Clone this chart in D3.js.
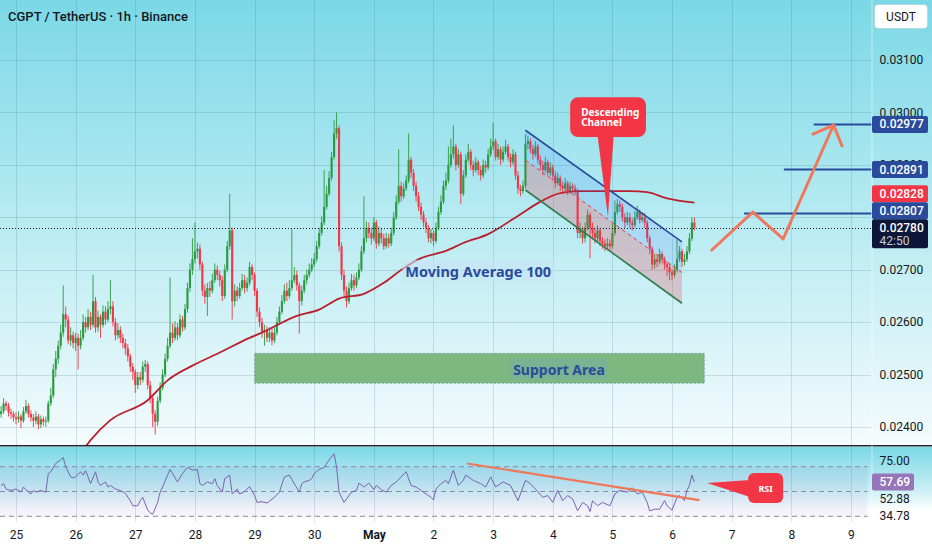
<!DOCTYPE html>
<html lang="en">
<head>
<meta charset="UTF-8">
<title>CGPT / TetherUS · 1h · Binance</title>
<script src="https://cdn.jsdelivr.net/npm/d3@7"></script>
<style>
  html, body { margin: 0; padding: 0; background: #fff; }
  svg { display: block; font-family: Roboto, 'Liberation Sans', sans-serif; }
</style>
</head>
<body>
<div id="chart"></div>
<script>
// prices in 0.00001 USDT, one candle per hour starting 24 Apr 18:00
const firstOpen = 2425;
const closes = [
  2430, 2445, 2440, 2428, 2425, 2418,
  2415, 2420, 2412, 2430, 2440, 2425, 2418, 2412, 2420, 2405, 2415, 2410, 2412, 2445, 2460, 2510, 2530, 2555, 2580, 2615, 2605, 2565, 2575, 2560,
  2570, 2555, 2570, 2600, 2590, 2610, 2595, 2640, 2590, 2610, 2595, 2620, 2605, 2625, 2630, 2600, 2575, 2585, 2570, 2560, 2550, 2535, 2515, 2505,
  2480, 2495, 2490, 2515, 2520, 2480, 2455, 2425, 2410, 2450, 2475, 2500, 2530, 2555, 2580, 2570, 2590, 2575, 2605, 2590, 2625, 2665, 2700, 2720,
  2735, 2740, 2710, 2660, 2648, 2665, 2660, 2680, 2700, 2690, 2680, 2650, 2700, 2745, 2775, 2640, 2660, 2650, 2665, 2680, 2665, 2675, 2705, 2690,
  2660, 2620, 2600, 2582, 2585, 2570, 2580, 2565, 2580, 2600, 2620, 2640, 2660, 2650, 2665, 2680, 2690, 2670, 2640, 2660, 2680, 2690, 2700, 2710,
  2720, 2745, 2770, 2790, 2820, 2845, 2875, 2915, 2960, 2970, 2745, 2690, 2660, 2640, 2665, 2680, 2670, 2685, 2700, 2735, 2760, 2780, 2770, 2760,
  2790, 2750, 2770, 2760, 2745, 2760, 2750, 2770, 2800, 2830, 2860, 2840, 2855, 2870, 2910, 2885, 2860, 2840, 2820, 2805, 2790, 2780, 2760, 2770,
  2755, 2780, 2810, 2830, 2860, 2870, 2900, 2920, 2935, 2900, 2920, 2845, 2880, 2910, 2925, 2900, 2890, 2905, 2890, 2880, 2900, 2895, 2920, 2935,
  2945, 2915, 2930, 2910, 2925, 2935, 2915, 2905, 2920, 2880, 2855, 2850, 2860, 2940, 2945, 2930, 2920, 2935, 2910, 2900, 2890, 2905, 2885, 2895,
  2880, 2865, 2875, 2860, 2855, 2865, 2850, 2860, 2855, 2850, 2770, 2775, 2760, 2780, 2805, 2780, 2770, 2760, 2775, 2755, 2750, 2745, 2750, 2745,
  2770, 2810, 2825, 2820, 2800, 2790, 2800, 2790, 2785, 2800, 2810, 2795, 2800, 2790, 2760, 2740, 2710, 2720, 2715, 2730, 2720, 2710, 2705, 2695,
  2690, 2700, 2720, 2735, 2715, 2720, 2735, 2760, 2790, 2780
];
const highs = [
  2440, 2455, 2450, 2446, 2435, 2430,
  2428, 2430, 2425, 2438, 2452, 2445, 2432, 2425, 2430, 2425, 2422, 2420, 2420, 2450, 2475, 2520, 2545, 2565, 2595, 2670, 2630, 2612, 2590, 2582,
  2580, 2578, 2585, 2615, 2610, 2625, 2620, 2690, 2648, 2622, 2615, 2632, 2630, 2640, 2680, 2640, 2608, 2598, 2592, 2578, 2568, 2558, 2540, 2522,
  2510, 2505, 2505, 2525, 2528, 2525, 2488, 2460, 2432, 2458, 2485, 2510, 2540, 2570, 2685, 2598, 2602, 2598, 2615, 2612, 2635, 2675, 2712, 2760,
  2790, 2752, 2748, 2715, 2672, 2675, 2678, 2692, 2712, 2708, 2698, 2688, 2710, 2755, 2845, 2780, 2672, 2668, 2675, 2692, 2690, 2685, 2715, 2710,
  2695, 2665, 2628, 2608, 2595, 2592, 2590, 2588, 2590, 2610, 2630, 2652, 2672, 2675, 2680, 2777, 2705, 2698, 2676, 2670, 2690, 2700, 2712, 2722,
  2732, 2755, 2780, 2802, 2890, 2860, 2888, 2925, 2985, 3000, 2975, 2752, 2700, 2668, 2675, 2692, 2690, 2695, 2712, 2745, 2840, 2792, 2790, 2780,
  2800, 2795, 2782, 2778, 2768, 2770, 2768, 2780, 2810, 2842, 2930, 2868, 2865, 2880, 2960, 2915, 2892, 2868, 2848, 2828, 2812, 2798, 2785, 2778,
  2775, 2790, 2820, 2842, 2870, 2885, 2935, 2950, 2975, 2940, 2930, 2925, 2890, 2920, 2940, 2930, 2908, 2915, 2910, 2898, 2910, 2908, 2930, 2950,
  2980, 2950, 2940, 2935, 2935, 2948, 2940, 2922, 2930, 2925, 2888, 2862, 2870, 2958, 2955, 2950, 2938, 2945, 2940, 2918, 2908, 2915, 2910, 2905,
  2900, 2888, 2885, 2880, 2868, 2875, 2870, 2868, 2865, 2862, 2855, 2790, 2782, 2790, 2815, 2810, 2790, 2778, 2785, 2780, 2762, 2758, 2760, 2758,
  2788, 2832, 2835, 2832, 2826, 2808, 2810, 2808, 2798, 2812, 2822, 2815, 2810, 2808, 2795, 2765, 2745, 2730, 2728, 2740, 2735, 2725, 2715, 2712,
  2700, 2710, 2758, 2745, 2740, 2730, 2745, 2770, 2800, 2800
];
const lows = [
  2418, 2425, 2432, 2420, 2415, 2410,
  2405, 2408, 2398, 2408, 2425, 2418, 2410, 2400, 2405, 2396, 2398, 2402, 2400, 2408, 2440, 2455, 2495, 2520, 2548, 2572, 2590, 2558, 2555, 2550,
  2545, 2510, 2548, 2565, 2580, 2585, 2585, 2590, 2580, 2582, 2570, 2590, 2595, 2600, 2615, 2592, 2565, 2568, 2560, 2550, 2538, 2525, 2505, 2490,
  2465, 2472, 2480, 2485, 2505, 2472, 2445, 2400, 2385, 2402, 2445, 2470, 2495, 2525, 2550, 2560, 2565, 2566, 2570, 2582, 2585, 2618, 2658, 2690,
  2712, 2722, 2700, 2650, 2635, 2612, 2648, 2655, 2675, 2680, 2668, 2640, 2645, 2695, 2738, 2605, 2630, 2640, 2645, 2660, 2655, 2658, 2670, 2680,
  2650, 2610, 2590, 2570, 2555, 2562, 2562, 2556, 2560, 2575, 2595, 2615, 2635, 2640, 2645, 2660, 2675, 2660, 2578, 2632, 2655, 2672, 2685, 2695,
  2705, 2715, 2740, 2765, 2785, 2815, 2840, 2870, 2910, 2950, 2735, 2680, 2650, 2628, 2635, 2660, 2660, 2665, 2680, 2695, 2730, 2752, 2760, 2748,
  2755, 2740, 2745, 2750, 2738, 2740, 2742, 2745, 2765, 2795, 2825, 2830, 2835, 2850, 2865, 2875, 2850, 2830, 2812, 2795, 2782, 2770, 2752, 2750,
  2745, 2750, 2775, 2805, 2825, 2852, 2865, 2895, 2912, 2890, 2895, 2825, 2840, 2875, 2905, 2890, 2878, 2885, 2880, 2870, 2875, 2885, 2890, 2915,
  2928, 2908, 2910, 2900, 2905, 2920, 2908, 2895, 2900, 2872, 2845, 2840, 2845, 2855, 2930, 2922, 2910, 2915, 2902, 2890, 2880, 2885, 2878, 2878,
  2870, 2855, 2860, 2850, 2845, 2848, 2842, 2845, 2848, 2842, 2760, 2760, 2750, 2752, 2775, 2722, 2760, 2750, 2752, 2745, 2740, 2735, 2738, 2735,
  2740, 2765, 2805, 2810, 2792, 2780, 2785, 2780, 2775, 2780, 2795, 2788, 2790, 2780, 2752, 2730, 2700, 2702, 2705, 2710, 2712, 2700, 2688, 2680,
  2680, 2685, 2695, 2715, 2705, 2708, 2715, 2730, 2755, 2775
];
// moving average 100: [hour, price]
const maPoints = [
  [30, 2345], [34, 2363], [36, 2375], [44, 2413], [59, 2451], [67, 2489], [77, 2517], [88, 2542],
  [100, 2570], [105, 2580], [119, 2612], [128, 2624], [136, 2645], [146, 2654], [154, 2675], [162, 2703],
  [169, 2722], [179, 2736], [186, 2751], [196, 2768], [209, 2806], [216, 2827], [225, 2846], [233, 2850],
  [241, 2850], [253, 2850], [260, 2848], [268, 2836], [279, 2828]
];
// RSI 14: [hour, value]
const rsiPoints = [
  [0, 54.9], [1, 56.3], [2, 52], [4, 50.8], [6, 52], [8, 49.5], [9, 53.6], [10, 51.4], [12, 48], [13, 50.8],
  [14, 49.5], [16, 50.8], [18, 49.5], [19, 64.5], [20, 65.9], [22, 72.7], [24, 75.5], [25, 77.4], [26, 70],
  [28, 61.8], [29, 61], [30, 61.8], [32, 65.9], [33, 63.2], [34, 66.7], [35, 61.8], [36, 56.3], [38, 65.9],
  [39, 57.7], [40, 54.9], [42, 57.7], [43, 53.6], [44, 54.9], [46, 52], [48, 50.8], [50, 48.6], [52, 42.6],
  [53, 38.5], [55, 38.5], [56, 42.6], [57, 45.3], [59, 34.9], [60, 33], [61, 31.6], [63, 41.2], [64, 49.5],
  [65, 53.6], [67, 63.2], [68, 67.8], [69, 64.5], [71, 57.7], [73, 64.5], [75, 69.5], [77, 67.3], [79, 67.8],
  [80, 56.3], [81, 54.9], [83, 57.7], [85, 56.3], [86, 60.4], [87, 54.9], [89, 49.5], [90, 60.4], [92, 63.2],
  [93, 48], [95, 52], [96, 48], [98, 50], [100, 54], [102, 46.7], [103, 41.2], [105, 41.8], [107, 40.7],
  [110, 45.3], [112, 49.5], [114, 61.8], [116, 63.2], [118, 56.3], [120, 49.5], [121, 56.3], [122, 57.7],
  [124, 59], [125, 60.4], [126, 64.5], [128, 67.8], [130, 69.5], [132, 75.5], [134, 80.4], [135, 70],
  [136, 49.5], [138, 41.2], [139, 44], [141, 49.5], [143, 50.8], [144, 56.8], [146, 53.6], [148, 56.8],
  [150, 51.4], [151, 54.9], [153, 51.4], [155, 49.5], [157, 54.9], [159, 57.7], [161, 61.8], [163, 65.9],
  [165, 54.9], [167, 53.6], [169, 50.8], [171, 48], [173, 45.3], [174, 43.2], [175, 52], [177, 56.3],
  [179, 59], [180, 56.3], [182, 67.3], [184, 54.9], [186, 59], [187, 63.2], [190, 59], [193, 56.3],
  [195, 53.6], [197, 61.8], [199, 53.6], [202, 57.7], [205, 54.9], [208, 42.6], [211, 59], [213, 56.3],
  [215, 52], [218, 45.3], [220, 46.7], [222, 41.2], [224, 50.8], [226, 42.6], [228, 46.7], [230, 44],
  [232, 34.4], [234, 41.2], [236, 38.5], [237, 33.8], [238, 42.6], [240, 38.5], [242, 41.2], [245, 38.5],
  [247, 48], [249, 50.8], [252, 49.5], [254, 53], [256, 48], [258, 49.5], [260, 41.2], [261, 34.4],
  [263, 35.7], [265, 35.7], [267, 42.6], [268, 38.5], [270, 34.9], [272, 45.3], [273, 46.7], [275, 42.6],
  [276, 50.8], [277, 54.9], [278, 63.2], [279, 57.69]
];
const rsiSignal = 52.88;
const rsiLower = 34.78;
const priceTicks = [0.024, 0.025, 0.026, 0.027, 0.028, 0.029, 0.030, 0.031];
const rsiTicks = [75];
const rsiBands = [70, 50, 30];
const dayLabels = ['25', '26', '27', '28', '29', '30', 'May', '2', '3', '4', '5', '6', '7', '8', '9'];
// drawings, in hours and prices
const channel = { h0: 211, h1: 274, upper: [0.02966, 0.02753], lower: [0.02852, 0.02636] };
const support = { h0: 102, h1: 283, top: 0.025405, bottom: 0.024835 };
const targets = [ { price: 0.02977, from: 327 }, { price: 0.02891, from: 315 }, { price: 0.02807, from: 299 } ];
const forecast = [ [286, 0.027376], [302.5, 0.02810], [314.7, 0.027586], [335, 0.02976] ];
const arrowWings = [ [326.7, 0.029588], [338.4, 0.02936] ];
const rsiTrend = [ [187.5, 72.6], [281, 43.1] ];
const countdown = '42:50';

const W = 932, H = 550;
const plotR = 871.5;
const mainTop = 0, mainBot = 445;
const rsiTop = 447, rsiBot = 522;
const t0 = Date.UTC(2024, 3, 24, 18);
const hour = 3600e3;
const at = (h) => new Date(t0 + h * hour);

const x = d3.scaleUtc().domain([at(0), at(350)]).range([1.09, 870.85]);
const y = d3.scaleLinear().domain([0.024, 0.031]).range([427, 60]);
const yr = d3.scaleLinear().domain([30, 70]).range([516.3, 466.7]);
const xh = (h) => x(at(h));

const GREEN = '#2a9a40', RED = '#f23645', BLUE = '#2a4b9b', ORANGE = '#f0785a', INK = '#131722';

const svg = d3.select('#chart').append('svg')
  .attr('width', W).attr('height', H).attr('viewBox', `0 0 ${W} ${H}`);
const defs = svg.append('defs');

function grad(id, stops) {
  const g = defs.append('linearGradient').attr('id', id)
    .attr('x1', 0).attr('x2', 0).attr('y1', 0).attr('y2', 1);
  stops.forEach(([o, c]) => g.append('stop').attr('offset', o).attr('stop-color', c));
}
grad('bgMain', [[0, '#7bd8e6'], [0.5, '#b8ebf2'], [1, '#f4fbfc']]);
grad('bgRsi', [[0, '#7bd8e6'], [0.55, '#c6eef4'], [0.85, '#ffffff'], [1, '#ffffff']]);

defs.append('clipPath').attr('id', 'clipMain')
  .append('rect').attr('x', 0).attr('y', mainTop).attr('width', plotR).attr('height', mainBot - mainTop);
defs.append('clipPath').attr('id', 'clipRsi')
  .append('rect').attr('x', 0).attr('y', rsiTop).attr('width', plotR).attr('height', rsiBot - rsiTop);

svg.append('rect').attr('width', W).attr('height', H).attr('fill', '#fff');
svg.append('rect').attr('x', 0).attr('y', mainTop).attr('width', W).attr('height', mainBot - mainTop).attr('fill', 'url(#bgMain)');
svg.append('rect').attr('x', 0).attr('y', rsiTop).attr('width', W).attr('height', rsiBot - rsiTop).attr('fill', 'url(#bgRsi)');

// grid
const days = d3.utcDay.range(new Date(Date.UTC(2024, 3, 25)), new Date(Date.UTC(2024, 4, 10)));
const grid = svg.append('g').attr('stroke', 'rgba(50,90,110,0.16)').attr('stroke-width', 1);
grid.selectAll('.v').data(days).join('line')
  .attr('x1', (d) => Math.round(x(d)) + 0.5).attr('x2', (d) => Math.round(x(d)) + 0.5)
  .attr('y1', mainTop).attr('y2', rsiBot);
grid.selectAll('.h').data(priceTicks).join('line')
  .attr('x1', 0).attr('x2', plotR)
  .attr('y1', (d) => Math.round(y(d)) + 0.5).attr('y2', (d) => Math.round(y(d)) + 0.5);

// rsi band
svg.append('rect').attr('x', 0).attr('width', plotR - 4)
  .attr('y', yr(70)).attr('height', yr(30) - yr(70)).attr('fill', 'rgba(126,87,194,0.08)');
svg.append('g').selectAll('line').data(rsiBands).join('line')
  .attr('x1', 0).attr('x2', plotR - 4)
  .attr('y1', (d) => yr(d)).attr('y2', (d) => yr(d))
  .attr('stroke', '#8e87a6').attr('stroke-dasharray', '5,4').attr('stroke-width', 1);

// support area
const sx0 = xh(support.h0), sx1 = xh(support.h1);
svg.append('rect').attr('x', sx0).attr('y', y(support.top))
  .attr('width', sx1 - sx0).attr('height', y(support.bottom) - y(support.top))
  .attr('fill', '#7cb880').attr('stroke', 'rgba(60,100,150,0.55)').attr('stroke-width', 0.8)
  .attr('stroke-dasharray', '2,2');

// candles
const candles = closes.map((c, i) => ({
  t: at(i),
  o: (i ? closes[i - 1] : firstOpen) / 1e5,
  h: highs[i] / 1e5,
  l: lows[i] / 1e5,
  c: c / 1e5,
}));
const cg = svg.append('g').attr('clip-path', 'url(#clipMain)');
const cs = cg.selectAll('g').data(candles).join('g')
  .attr('fill', (d) => (d.c >= d.o ? GREEN : RED))
  .attr('stroke', (d) => (d.c >= d.o ? GREEN : RED));
cs.append('line')
  .attr('x1', (d) => x(d.t)).attr('x2', (d) => x(d.t))
  .attr('y1', (d) => y(d.h)).attr('y2', (d) => y(d.l))
  .attr('stroke-width', 0.9);
cs.append('rect')
  .attr('x', (d) => x(d.t) - 1.05).attr('width', 2.1)
  .attr('y', (d) => y(Math.max(d.o, d.c)))
  .attr('height', (d) => Math.max(1, Math.abs(y(d.o) - y(d.c))))
  .attr('stroke', 'none');

// moving average 100
cg.append('path').datum(maPoints)
  .attr('fill', 'none').attr('stroke', '#b8202f').attr('stroke-width', 1.8)
  .attr('d', d3.line().curve(d3.curveMonotoneX).x((d) => xh(d[0])).y((d) => y(d[1] / 1e5)));

// descending channel
const chX0 = xh(channel.h0), chX1 = xh(channel.h1);
const mid = [(channel.upper[0] + channel.lower[0]) / 2, (channel.upper[1] + channel.lower[1]) / 2];
const poly = (a, b) => `M${chX0},${y(a[0])}L${chX1},${y(a[1])}L${chX1},${y(b[1])}L${chX0},${y(b[0])}Z`;
svg.append('path').attr('d', poly(channel.upper, mid)).attr('fill', 'rgba(41,98,255,0.13)');
svg.append('path').attr('d', poly(mid, channel.lower)).attr('fill', 'rgba(242,54,69,0.24)');
svg.append('line').attr('x1', chX0).attr('x2', chX1).attr('y1', y(channel.upper[0])).attr('y2', y(channel.upper[1]))
  .attr('stroke', BLUE).attr('stroke-width', 1.6);
svg.append('line').attr('x1', chX0).attr('x2', chX1).attr('y1', y(channel.lower[0])).attr('y2', y(channel.lower[1]))
  .attr('stroke', '#2f7d4c').attr('stroke-width', 1.6);
svg.append('line').attr('x1', chX0).attr('x2', chX1).attr('y1', y(mid[0])).attr('y2', y(mid[1]))
  .attr('stroke', RED).attr('stroke-width', 1).attr('stroke-dasharray', '4,3');

// last price dotted line
const last = candles[candles.length - 1];
svg.append('line').attr('x1', 0).attr('x2', plotR)
  .attr('y1', Math.round(y(last.c)) + 0.5).attr('y2', Math.round(y(last.c)) + 0.5)
  .attr('stroke', INK).attr('stroke-width', 1).attr('stroke-dasharray', '1,2');

// text labels with boxes
function boxLabel(h, price, text, bg, size) {
  const g = svg.append('g');
  const t = g.append('text').attr('x', xh(h)).attr('y', y(price))
    .attr('text-anchor', 'middle').attr('dominant-baseline', 'central')
    .attr('font-family', "'Noto Sans', 'DejaVu Sans', sans-serif")
    .attr('font-weight', 700).attr('font-size', size).attr('fill', BLUE).text(text);
  const b = t.node().getBBox();
  g.insert('rect', 'text').attr('x', b.x - 3).attr('y', b.y - 1)
    .attr('width', b.width + 6).attr('height', b.height + 2).attr('fill', bg);
}
boxLabel(192, 0.026975, 'Moving Average 100', 'rgba(200,228,246,0.6)', 14.5);
boxLabel(224.5, 0.025106, 'Support Area', 'rgba(110,160,235,0.18)', 14);

// target lines
svg.append('g').selectAll('line').data(targets).join('line')
  .attr('x1', (d) => xh(d.from)).attr('x2', plotR)
  .attr('y1', (d) => y(d.price)).attr('y2', (d) => y(d.price))
  .attr('stroke', BLUE).attr('stroke-width', 2);

// forecast path with arrow head
const fline = d3.line().x((d) => xh(d[0])).y((d) => y(d[1]));
svg.append('path').attr('d', fline(forecast))
  .attr('fill', 'none').attr('stroke', ORANGE).attr('stroke-width', 3)
  .attr('stroke-linejoin', 'round').attr('stroke-linecap', 'round');
const tip = forecast[forecast.length - 1];
svg.append('path').attr('d', fline([arrowWings[0], tip, arrowWings[1]]))
  .attr('fill', 'none').attr('stroke', ORANGE).attr('stroke-width', 3)
  .attr('stroke-linejoin', 'round').attr('stroke-linecap', 'round');

// callout: descending channel
{
  const bx0 = xh(229), bx1 = xh(259.5), by0 = y(0.03029), by1 = y(0.02953);
  svg.append('path')
    .attr('d', `M${xh(240)},${by1 - 2}L${xh(244.2)},${y(0.02801)}L${xh(246.5)},${by1 - 2}Z`)
    .attr('fill', RED);
  svg.append('rect').attr('x', bx0).attr('y', by0).attr('width', bx1 - bx0).attr('height', by1 - by0)
    .attr('rx', 8).attr('fill', RED);
  const t = svg.append('text').attr('x', bx0 + 11).attr('y', by0 + 18.5)
    .attr('font-family', "'Noto Sans', 'DejaVu Sans', sans-serif")
    .attr('font-size', 10).attr('font-weight', 700).attr('fill', '#fff');
  t.append('tspan').text('Descending');
  t.append('tspan').attr('x', bx0 + 11).attr('dy', 10).text('Channel');
}

// rsi pane
const rg = svg.append('g').attr('clip-path', 'url(#clipRsi)');
rg.append('path').datum(rsiPoints)
  .attr('fill', 'none').attr('stroke', '#7a63ad').attr('stroke-width', 1)
  .attr('d', d3.line().x((d) => xh(d[0])).y((d) => yr(d[1])));
svg.append('line')
  .attr('x1', xh(rsiTrend[0][0])).attr('y1', yr(rsiTrend[0][1]))
  .attr('x2', xh(rsiTrend[1][0])).attr('y2', yr(rsiTrend[1][1]))
  .attr('stroke', ORANGE).attr('stroke-width', 2.2);

// callout: RSI
{
  const bx0 = xh(300.6), bx1 = xh(314.7), by0 = yr(64.9), by1 = yr(40.7);
  svg.append('path')
    .attr('d', `M${bx0 + 2},${yr(59.3)}L${xh(284.1)},${yr(56.9)}L${bx0 + 2},${yr(45.6)}Z`)
    .attr('fill', RED);
  svg.append('rect').attr('x', bx0).attr('y', by0).attr('width', bx1 - bx0).attr('height', by1 - by0)
    .attr('rx', 6).attr('fill', RED);
  svg.append('text').attr('x', (bx0 + bx1) / 2).attr('y', (by0 + by1) / 2 + 3.5)
    .attr('text-anchor', 'middle')
    .attr('font-family', "'Noto Sans', 'DejaVu Sans', sans-serif")
    .attr('font-size', 9).attr('font-weight', 700).attr('fill', '#fff').text('RSI');
}

// pane separator
svg.append('line').attr('x1', 0).attr('x2', W).attr('y1', 445.75).attr('y2', 445.75)
  .attr('stroke', '#1a2233').attr('stroke-width', 1.5);
svg.append('line').attr('x1', plotR + 0.5).attr('x2', plotR + 0.5).attr('y1', 0).attr('y2', rsiBot)
  .attr('stroke', 'rgba(255,255,255,0.5)');

// price badges, stacked upward from the last price
const fmt = d3.format('.5f');
const bh = 17;
const lastTop = y(last.c) - bh / 2;
const badges = [
  { v: 0.02977, fill: BLUE },
  { v: 0.02891, fill: BLUE },
  { v: maPoints[maPoints.length - 1][1] / 1e5, fill: RED },
  { v: 0.02807, fill: BLUE },
].sort((a, b) => b.v - a.v);
let limit = lastTop;
for (let i = badges.length - 1; i >= 0; i--) {
  let top = y(badges[i].v) - bh / 2;
  if (top + bh > limit) top = limit - bh;
  badges[i].top = top;
  limit = top;
}

// price axis: a tick label that lies wholly under the badge stack is left out
const spans = badges.map((b) => [b.top, b.top + bh]).concat([[lastTop, lastTop + 29]])
  .sort((a, b) => a[0] - b[0]);
const merged = [];
spans.forEach((s) => {
  const m = merged[merged.length - 1];
  if (m && s[0] <= m[1] + 0.5) m[1] = Math.max(m[1], s[1]);
  else merged.push(s.slice());
});
const covered = (v) => merged.some((m) => y(v) - 5 >= m[0] && y(v) + 5 <= m[1]);
const yAxis = svg.append('g').attr('transform', `translate(${plotR},0)`)
  .call(d3.axisRight(y).tickValues(priceTicks.filter((v) => !covered(v))).tickFormat(fmt).tickSize(0).tickPadding(8));
yAxis.select('.domain').remove();
yAxis.selectAll('text').attr('font-size', 12).attr('fill', INK).attr('font-family', 'Roboto, sans-serif');

const rAxis = svg.append('g').attr('transform', `translate(${plotR},0)`)
  .call(d3.axisRight(yr).tickValues(rsiTicks).tickFormat(d3.format('.2f')).tickSize(0).tickPadding(8));
rAxis.select('.domain').remove();
rAxis.selectAll('text').attr('font-size', 12).attr('fill', INK).attr('font-family', 'Roboto, sans-serif');

// time axis
const xAxis = svg.append('g').attr('transform', `translate(0,${rsiBot + 6})`)
  .call(d3.axisBottom(x).tickValues(days).tickFormat((d, i) => dayLabels[i]).tickSize(0).tickPadding(2));
xAxis.select('.domain').remove();
xAxis.selectAll('text').attr('font-size', 12).attr('fill', INK).attr('font-family', 'Roboto, sans-serif')
  .attr('font-weight', (d, i) => (dayLabels[i] === 'May' ? 700 : 400));

const bg = svg.append('g').attr('font-family', 'Roboto, sans-serif').attr('font-size', 12);
badges.forEach((b) => {
  bg.append('rect').attr('x', plotR + 0.5).attr('y', b.top).attr('width', 56).attr('height', bh)
    .attr('rx', 2).attr('fill', b.fill);
  bg.append('text').attr('x', plotR + 8).attr('y', b.top + bh / 2).attr('dominant-baseline', 'central')
    .attr('fill', '#fff').attr('font-weight', 500).text(fmt(b.v));
});
bg.append('rect').attr('x', plotR + 0.5).attr('y', lastTop).attr('width', 56).attr('height', 29)
  .attr('rx', 2).attr('fill', '#0d1739');
bg.append('text').attr('x', plotR + 8).attr('y', lastTop + bh / 2).attr('dominant-baseline', 'central')
  .attr('fill', '#fff').attr('font-weight', 500).text(fmt(last.c));
bg.append('text').attr('x', plotR + 8).attr('y', lastTop + 21.5).attr('dominant-baseline', 'central')
  .attr('fill', '#c9ccd6').text(countdown);

// rsi labels, stacked downward from the current value
const rsiNow = rsiPoints[rsiPoints.length - 1][1];
const rTop = yr(rsiNow) - bh / 2;
bg.append('rect').attr('x', plotR + 0.5).attr('y', rTop).attr('width', 42).attr('height', bh)
  .attr('rx', 2).attr('fill', '#9676b9');
bg.append('text').attr('x', plotR + 8).attr('y', rTop + bh / 2).attr('dominant-baseline', 'central')
  .attr('fill', '#fff').attr('font-weight', 500).text(d3.format('.2f')(rsiNow));
let rLimit = rTop + bh;
[rsiSignal, rsiLower].forEach((v) => {
  let top = yr(v) - bh / 2;
  if (top < rLimit) top = rLimit;
  bg.append('text').attr('x', plotR + 8).attr('y', top + bh / 2).attr('dominant-baseline', 'central')
    .attr('fill', INK).text(d3.format('.2f')(v));
  rLimit = top + bh;
});

// currency box
svg.append('rect').attr('x', 874.5).attr('y', 4.5).attr('width', 53).attr('height', 24)
  .attr('rx', 4).attr('fill', '#fff').attr('stroke', 'rgba(0,0,0,0.08)');
svg.append('text').attr('x', 901).attr('y', 17).attr('text-anchor', 'middle').attr('dominant-baseline', 'central')
  .attr('font-size', 12).attr('fill', INK).text('USDT');

// title
svg.append('text').attr('x', 8).attr('y', 16).attr('dominant-baseline', 'central')
  .attr('font-size', 13).attr('font-weight', 500).attr('fill', INK)
  .text('CGPT / TetherUS · 1h · Binance');
</script>
</body>
</html>
